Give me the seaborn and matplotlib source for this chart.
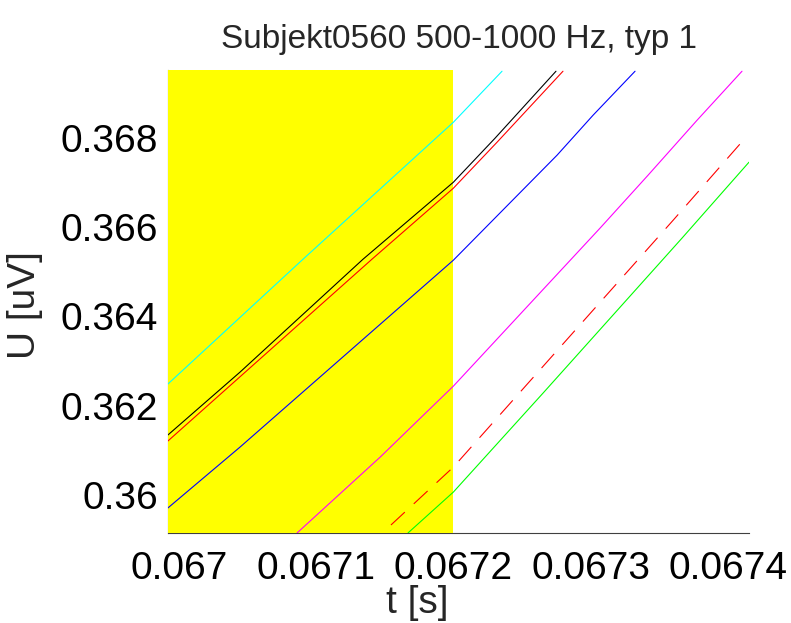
import matplotlib
matplotlib.use("Agg")
import matplotlib.pyplot as plt
import seaborn as sns
import pandas as pd

# values
t_cyan = [0.066992, 0.0670905, 0.0672, 0.0672354]
u_cyan = [0.362486, 0.365285, 0.368354, 0.369496]

t_black = [0.066992, 0.0670446, 0.0671342, 0.0672, 0.0672303, 0.0672747]
u_black = [0.361344, 0.362755, 0.365285, 0.367010, 0.367995, 0.369496]

t_red = [0.066992, 0.0671407, 0.0672, 0.0672318, 0.0672798]
u_red = [0.361209, 0.365285, 0.366876, 0.367906, 0.369496]

t_blue = [0.066992, 0.0670446, 0.0672, 0.0672755, 0.0673017, 0.0673323]
u_blue = [0.359709, 0.361075, 0.365263, 0.367615, 0.368510, 0.369496]

t_magenta = [0.0670861, 0.0671467, 0.0672, 0.0673068, 0.0673418, 0.0673775, 0.0674102]
u_magenta = [0.359149, 0.360851, 0.362441, 0.365980, 0.367167, 0.368399, 0.369496]

t_red_dash = [0.0671545, 0.0672, 0.0673601, 0.0674131]
u_red_dash = [0.359328, 0.360627, 0.366159, 0.368018]

t_green = [0.0671669, 0.0672, 0.0672653, 0.0673665, 0.0674153]
u_green = [0.359149, 0.360067, 0.362284, 0.365756, 0.367458]

x_ticks = [0.067, 0.0671, 0.0672, 0.0673, 0.0674]
x_tick_labels = ["0.067", "0.0671", "0.0672", "0.0673", "0.0674"]
y_ticks = [0.360, 0.362, 0.364, 0.366, 0.368]
y_tick_labels = ["0.36", "0.362", "0.364", "0.366", "0.368"]
yellow_end = 0.0672

sns.set_style("white")
plt.rcParams["font.family"] = ["Liberation Sans", "DejaVu Sans"]

fig = plt.figure(figsize=(7.91, 6.23), dpi=100)
ax = fig.add_axes([0.2124, 0.1445, 0.7345, 0.7431])

ax.axvspan(0.0669, yellow_end, color="#FFFF00", zorder=3, lw=0)

series = [
    (t_cyan, u_cyan, "#00FFFF"),
    (t_black, u_black, "#000000"),
    (t_red, u_red, "#FF0000"),
    (t_blue, u_blue, "#0000FF"),
    (t_magenta, u_magenta, "#FF00FF"),
    (t_green, u_green, "#00FF00"),
]
for t, u, c in series:
    df = pd.DataFrame({"t": t, "u": u})
    sns.lineplot(data=df, x="t", y="u", color=c, lw=0.8, sort=False,
                 estimator=None, ax=ax, zorder=4)

df = pd.DataFrame({"t": t_red_dash, "u": u_red_dash})
sns.lineplot(data=df, x="t", y="u", color="#FF0000", lw=0.8, sort=False,
             estimator=None, ax=ax, zorder=4)
ax.lines[-1].set_dashes((17, 11))

ax.set_xlim(0.0669921, 0.0674153)
ax.set_ylim(0.359149, 0.369523)
ax.set_xticks(x_ticks)
ax.set_xticklabels(x_tick_labels)
ax.set_yticks(y_ticks)
ax.set_yticklabels(y_tick_labels)
ax.tick_params(axis="both", direction="in", length=5, width=0.8,
               colors="#404040", labelcolor="black", labelsize=28)
ax.tick_params(axis="x", pad=13)
ax.tick_params(axis="y", pad=7)

for s in ["top", "right"]:
    ax.spines[s].set_visible(False)
for s in ["bottom", "left"]:
    ax.spines[s].set_color("#404040")
    ax.spines[s].set_linewidth(0.8)

ax.set_xlabel("t [s]", fontsize=28)
ax.set_ylabel("U [uV]", fontsize=28)
ax.xaxis.set_label_coords(0.4286, -0.113)
ax.yaxis.set_label_coords(-0.215, 0.4924)
ax.set_title("Subjekt0560 500-1000 Hz, typ 1", fontsize=24, pad=16)

fig.savefig("out.png", dpi=100)
